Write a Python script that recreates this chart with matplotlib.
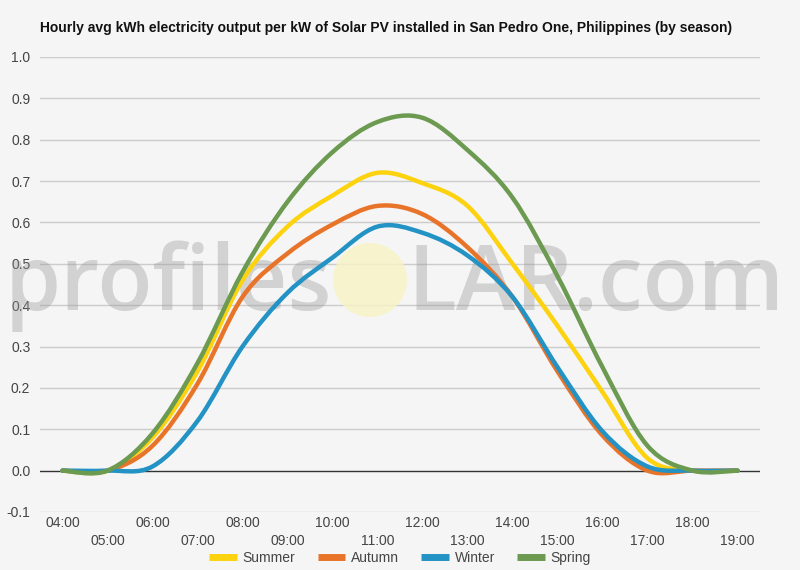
import numpy as np
import matplotlib.pyplot as plt
from matplotlib.path import Path
from matplotlib.patches import PathPatch, Ellipse
from matplotlib.lines import Line2D

plt.rcParams['font.family'] = ['Liberation Sans', 'DejaVu Sans']

# hourly values
hours = [4, 5, 6, 7, 8, 9, 10, 11, 12, 13, 14, 15, 16, 17, 18, 19]
hour_labels = ['%02d:00' % h for h in hours]
summer = [0.0, 0.0, 0.08, 0.24, 0.46, 0.59, 0.665, 0.72, 0.695, 0.64, 0.50, 0.35, 0.19, 0.03, 0.0, 0.0]
autumn = [0.0, 0.0, 0.06, 0.21, 0.42, 0.525, 0.595, 0.64, 0.62, 0.54, 0.42, 0.24, 0.085, 0.0, 0.0, 0.0]
winter = [0.0, 0.0, 0.01, 0.12, 0.30, 0.43, 0.515, 0.59, 0.575, 0.52, 0.42, 0.25, 0.095, 0.01, 0.0, 0.0]
spring = [0.0, 0.0, 0.09, 0.26, 0.48, 0.65, 0.77, 0.843, 0.853, 0.775, 0.66, 0.47, 0.25, 0.06, 0.0, 0.0]

series = [('Summer', summer, '#fdd20e'),
          ('Autumn', autumn, '#e8742a'),
          ('Winter', winter, '#2392c4'),
          ('Spring', spring, '#6b9a50')]

bg = '#f5f5f5'


def smooth_path(x, y):
    # cubic bezier segments through the points (catmull-rom style)
    p = np.column_stack([x, y]).astype(float)
    n = len(p)
    verts = [p[0]]
    codes = [Path.MOVETO]
    for i in range(n - 1):
        p0 = p[max(i - 1, 0)]
        p1 = p[i]
        p2 = p[i + 1]
        p3 = p[min(i + 2, n - 1)]
        c1 = p1 + (p2 - p0) / 6.0
        c2 = p2 - (p3 - p1) / 6.0
        verts += [c1, c2, p2]
        codes += [Path.CURVE4] * 3
    return Path(verts, codes)


fig = plt.figure(figsize=(8, 5.7), dpi=100, facecolor=bg)
ax = fig.add_axes([0.05, 0.1018, 0.90, 0.7982], facecolor=bg)

ax.set_xlim(3.5, 19.5)
ax.set_ylim(-0.1, 1.0)
yt = np.round(np.arange(-0.1, 1.01, 0.1), 1)
ax.set_yticks(yt)
ax.set_yticklabels(['%.1f' % v for v in yt])
for v in yt:
    if v == 0:
        ax.axhline(v, color='#333333', lw=1, zorder=2)
    else:
        ax.axhline(v, color='#cccccc', lw=1, zorder=1)

ax.set_xticks(hours[::2])
ax.set_xticklabels(hour_labels[::2])
ax.set_xticks(hours[1::2], minor=True)
ax.set_xticklabels(hour_labels[1::2], minor=True)
ax.tick_params(axis='x', which='major', length=0, pad=3, labelsize=10, labelcolor='#444444')
ax.tick_params(axis='x', which='minor', length=0, pad=16, labelsize=10, labelcolor='#444444')
ax.tick_params(axis='y', length=0, pad=7, labelsize=10, labelcolor='#444444')
for s in ax.spines.values():
    s.set_visible(False)

# watermark
wm_col = (0.6, 0.6, 0.6, 0.38)
ax.text(332 / 800, 1 - 310 / 570, 'profiles', transform=fig.transFigure, fontsize=65,
        family='Open Sans', fontweight='semibold', color=wm_col, ha='right', va='baseline',
        zorder=3, clip_on=False)
ax.text(407 / 800, 1 - 310 / 570, 'LAR.com', transform=fig.transFigure, fontsize=65,
        family='Open Sans', fontweight='semibold', color=wm_col, ha='left', va='baseline',
        zorder=3, clip_on=False)
sun = Ellipse((370 / 800, 1 - 280 / 570), 74 / 800, 74 / 570, transform=fig.transFigure,
              facecolor='#f8f3c4', edgecolor='none', alpha=0.8, zorder=3)
sun.set_clip_on(False)
ax.add_patch(sun)

handles = []
for name, vals, col in series:
    patch = PathPatch(smooth_path(hours, vals), facecolor='none', edgecolor=col,
                      lw=3.2, capstyle='round', joinstyle='round', zorder=5)
    ax.add_patch(patch)
    handles.append(Line2D([], [], color=col, lw=5, solid_capstyle='butt', label=name))

fig.legend(handles=handles, loc='center', bbox_to_anchor=(0.5, 1 - 558 / 570), ncol=4,
           frameon=False, fontsize=10, handlelength=2.0, handletextpad=0.4,
           columnspacing=1.6, labelcolor='#444444')

fig.text(40 / 800, 1 - 28 / 570,
         'Hourly avg kWh electricity output per kW of Solar PV installed in San Pedro One, Philippines (by season)',
         fontsize=10, fontweight='bold', color='#111111', ha='left', va='center')

fig.savefig('out.png', dpi=100, facecolor=bg)
